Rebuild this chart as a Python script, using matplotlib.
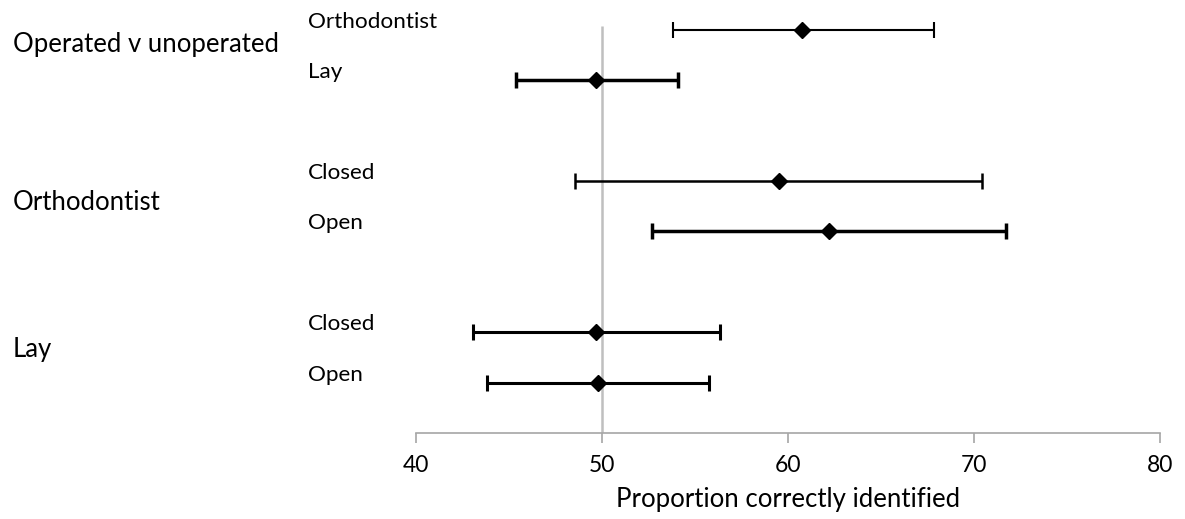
import matplotlib.pyplot as plt
import matplotlib.transforms as mtransforms

# rows from top to bottom
groups = ["Operated v unoperated", "Orthodontist", "Lay"]
group_y = [7.70, 4.58, 1.65]
row_labels = ["Orthodontist", "Lay", "Closed", "Open", "Closed", "Open"]
row_y = [8, 7, 5, 4, 2, 1]
means = [60.75, 49.7, 59.5, 62.2, 49.7, 49.8]
lower = [53.8, 45.4, 48.55, 52.7, 43.05, 43.8]
upper = [67.85, 54.1, 70.4, 71.7, 56.35, 55.75]
line_w = [1.5, 2.5, 1.8, 2.5, 2.2, 2.2]

plt.rcParams['font.family'] = ['Lato', 'DejaVu Sans']

fig = plt.figure(figsize=(11.85, 5.19), dpi=100)
ax = fig.add_axes([0.351, 0.1657, 0.628, 0.835])

# reference line at 50%
ax.vlines(50, 0, 8.08, color='#bfbfbf', lw=1.8, zorder=1)

for y, m, lo, hi, lw in zip(row_y, means, lower, upper, line_w):
    ax.errorbar(m, y, xerr=[[m - lo], [hi - m]], fmt='D', color='black',
                ms=8.5, elinewidth=lw, capsize=5.5, capthick=lw, zorder=3)

ax.set_xlim(40, 80)
ax.set_ylim(0, 8.6)
ax.set_xticks([40, 50, 60, 70, 80])
ax.set_yticks([])
for side in ['left', 'right', 'top']:
    ax.spines[side].set_visible(False)
ax.spines['bottom'].set_color('#a6a6a6')
ax.spines['bottom'].set_linewidth(1.2)
ax.tick_params(axis='x', colors='#a6a6a6', length=7, width=1.2,
               labelcolor='black', labelsize=16.5, pad=9)
ax.set_xlabel("Proportion correctly identified", fontsize=18.5, labelpad=8)

trans = mtransforms.blended_transform_factory(fig.transFigure, ax.transData)
for name, y in zip(groups, group_y):
    ax.text(13 / 1185, y, name, transform=trans, fontsize=18.5,
            ha='left', va='center', clip_on=False)
for name, y in zip(row_labels, row_y):
    ax.text(308 / 1185, y + 0.16, name, transform=trans, fontsize=16.2,
            ha='left', va='center', clip_on=False)

fig.savefig('out.png', dpi=100)
